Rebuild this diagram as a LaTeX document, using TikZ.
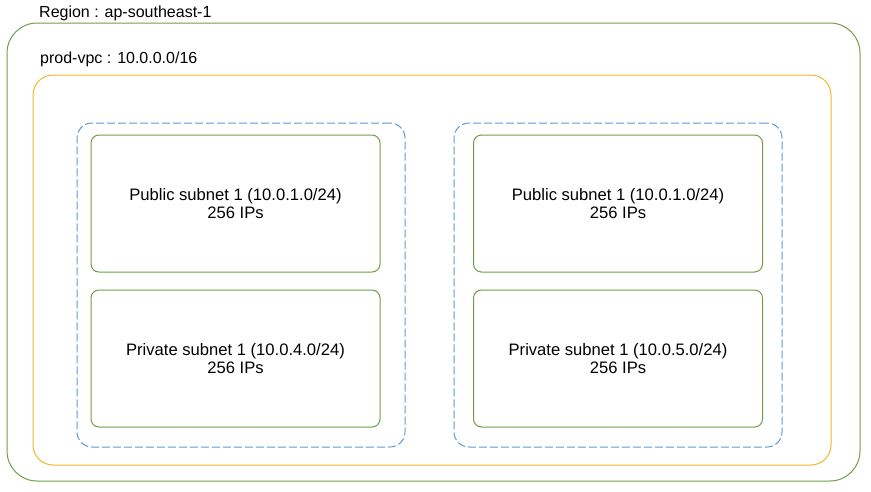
\documentclass[tikz,border=0pt]{standalone}
\usepackage{fontspec}
\setmainfont{Liberation Sans}
\usetikzlibrary{positioning}
\definecolor{regiongreen}{HTML}{6E9F45}
\definecolor{vpcorange}{HTML}{F5B42A}
\definecolor{azblue}{HTML}{5B9BD5}
\tikzstyle{region} = [rectangle, rounded corners=30pt, minimum width=853pt, minimum height=458pt, draw=regiongreen, line width=1pt]
\tikzstyle{vpc} = [rectangle, rounded corners=20pt, minimum width=798pt, minimum height=390pt, draw=vpcorange, line width=1pt]
\tikzstyle{zone} = [rectangle, rounded corners=15pt, minimum width=328pt, minimum height=324pt, draw=azblue, line width=1pt, dash pattern=on 8pt off 3pt]
\tikzstyle{subnet} = [rectangle, rounded corners=8pt, minimum width=289pt, minimum height=137pt, text centered, align=center, draw=regiongreen, line width=1pt, font=\fontsize{16.6}{18}\selectfont]
\tikzstyle{label} = [anchor=base west, inner sep=0pt, font=\fontsize{16}{18}\selectfont]

\begin{document}
\begin{tikzpicture}[x=1pt, y=-1pt, node distance=17pt]

    \useasboundingbox (0,0) rectangle (871,491);

    \node (region) [region] at (433.5,252) {};
    \node (vpc) [vpc] at (432,270) {};
    \node (zoneA) [zone] at (241,285) {};
    \node (zoneB) [zone] at (618,285) {};

    \node (pubA) [subnet] at (235.5,203.5) {Public subnet 1 (10.0.1.0/24)\\256 IPs};
    \node (privA) [subnet, below=of pubA] {Private subnet 1 (10.0.4.0/24)\\256 IPs};
    \node (pubB) [subnet] at (618,203.5) {Public subnet 1 (10.0.1.0/24)\\256 IPs};
    \node (privB) [subnet, below=of pubB] {Private subnet 1 (10.0.5.0/24)\\256 IPs};

    \node (regionlabel) [label] at (39,17) {Region : ap-southeast-1};
    \node (vpclabel) [label] at (40,63) {prod-vpc : 10.0.0.0/16};

\end{tikzpicture}
\end{document}
